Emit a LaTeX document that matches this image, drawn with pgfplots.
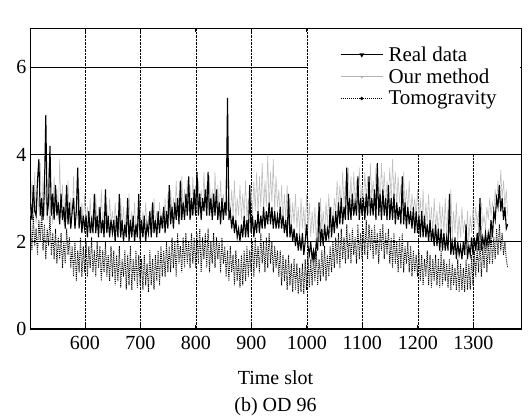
\documentclass[border=0pt]{standalone}
\usepackage{fontspec}
\setmainfont{Liberation Serif}
\usepackage{pgfplots}
\usepackage{pgfplotstable}
\pgfplotsset{compat=1.18}
\pgfplotsset{longlegend/.style={legend image code/.code={\draw[mark repeat=2,mark phase=2,##1] plot coordinates {(0pt,0pt) (21pt,0pt) (42pt,0pt)};}}}
\pgfplotstableread{
x r o t
502 2.9 2.6 2.4
504.5 2.5 3.4 1.8
507 3.3 2.5 2.6
509.5 2.7 3.6 1.9
512 2.6 2.4 2.3
514.5 3.4 3.2 1.7
517 3.9 2.7 2.5
519.5 2.6 3.8 2.0
522 3.0 2.5 2.7
524.5 2.5 3.5 1.8
527 3.2 2.6 2.4
529.5 4.9 3.3 1.6
532 2.6 2.5 2.3
534.5 2.9 3.7 1.9
537 4.2 2.6 2.6
539.5 2.6 3.1 1.7
542 3.1 2.4 2.2
544.5 2.5 3.5 1.6
547 3.3 2.7 2.3
549.5 2.6 3.2 1.5
552 2.9 2.5 2.1
554.5 2.4 3.9 1.6
557 3.1 2.6 2.2
559.5 2.5 3.3 1.4
562 2.8 2.4 2.0
564.5 2.3 3.1 1.5
567 3.3 2.5 2.3
569.5 2.4 3.4 1.7
572 2.9 2.4 2.1
574.5 2.3 3.0 1.4
577 2.7 2.6 1.9
579.5 3.0 3.5 1.2
582 2.3 2.3 2.0
584.5 2.7 2.9 1.1
587 3.7 2.5 1.8
589.5 2.3 3.2 1.3
592 2.8 2.4 2.1
594.5 2.2 2.9 1.2
597 2.6 2.3 1.9
599.5 2.3 3.1 1.3
602 2.6 2.4 2.0
604.5 2.1 2.8 1.2
607 2.7 2.3 1.9
609.5 2.2 3.0 1.4
612 2.5 2.2 2.1
614.5 2.2 2.7 1.3
617 3.1 2.4 1.8
619.5 2.2 3.1 1.2
622 2.6 2.3 2.0
624.5 2.1 2.8 1.4
627 2.8 2.2 1.9
629.5 2.2 3.2 1.1
632 2.5 2.4 1.8
634.5 2.1 2.7 1.3
637 3.2 2.3 2.0
639.5 2.2 2.9 1.2
642 2.6 2.2 1.7
644.5 2.1 3.0 1.1
647 2.5 2.4 1.9
649.5 2.2 2.7 1.2
652 2.5 2.2 1.8
654.5 2.0 2.9 1.0
657 2.6 2.3 1.7
659.5 2.1 2.6 1.1
662 3.1 2.2 1.9
664.5 2.1 3.0 0.95
667 2.5 2.3 1.6
669.5 2.0 2.8 1.2
672 2.4 2.2 1.8
674.5 2.1 2.7 0.9
677 3.0 2.4 1.7
679.5 2.0 3.1 1.0
682 2.5 2.2 1.9
684.5 2.1 2.7 0.9
687 2.6 2.3 1.6
689.5 2.0 2.9 1.1
692 2.4 2.2 1.8
694.5 2.1 2.6 0.95
697 3.1 2.3 1.7
699.5 2.0 2.8 1.0
702 2.5 2.2 1.6
704.5 2.1 2.7 0.9
707 2.6 2.3 1.7
709.5 2.0 2.9 1.0
712 2.4 2.2 1.5
714.5 2.2 2.6 0.85
717 2.7 2.3 1.8
719.5 2.1 2.8 1.0
722 2.9 2.2 1.6
724.5 2.2 3.0 0.9
727 2.5 2.4 1.7
729.5 2.1 2.7 1.1
732 2.7 2.3 1.8
734.5 2.2 2.9 1.0
737 2.6 2.4 1.9
739.5 2.3 2.7 1.2
742 2.8 2.3 1.8
744.5 2.2 3.0 1.2
747 2.7 2.4 2.0
749.5 2.3 3.1 1.3
752 3.3 2.5 1.9
754.5 2.4 3.2 1.3
757 2.8 2.6 2.1
759.5 2.3 3.0 1.4
762 2.9 2.5 2.0
764.5 2.5 3.4 1.2
767 3.0 2.6 2.2
769.5 2.4 3.1 1.5
772 3.4 2.5 1.9
774.5 2.5 3.5 1.3
777 2.9 2.7 2.1
779.5 2.5 3.2 1.4
782 3.1 2.6 2.2
784.5 2.6 3.4 1.5
787 3.5 2.7 2.0
789.5 2.5 3.3 1.4
792 3.0 2.6 2.2
794.5 2.6 3.5 1.5
797 3.2 2.7 2.1
799.5 2.6 3.3 1.4
802 3.6 2.7 2.2
804.5 2.6 3.4 1.5
807 3.1 2.8 2.3
809.5 2.5 3.2 1.3
812 3.0 2.7 2.1
814.5 2.7 3.6 1.6
817 3.2 2.8 2.2
819.5 2.6 3.3 1.4
822 3.6 2.6 2.3
824.5 2.6 3.5 1.3
827 3.0 2.7 2.0
829.5 2.5 3.2 1.5
832 3.1 2.6 2.2
834.5 2.6 3.6 1.4
837 3.2 2.8 2.1
839.5 2.5 3.3 1.6
842 2.9 2.6 2.0
844.5 2.4 3.4 1.3
847 3.0 2.7 2.1
849.5 2.5 3.1 1.5
852 2.9 2.6 1.9
854.5 2.6 3.5 1.2
857 5.3 2.7 1.8
859.5 2.5 3.3 1.1
862 2.7 2.5 1.9
864.5 2.3 3.2 1.3
867 2.6 2.6 1.7
869.5 2.2 3.4 1.0
872 2.5 2.5 1.8
874.5 2.1 3.0 1.1
877 2.3 2.6 1.6
879.5 2.0 3.3 0.95
882 2.4 2.5 1.7
884.5 2.1 3.1 1.0
887 2.6 2.6 1.8
889.5 2.1 3.4 1.1
892 2.5 2.5 1.9
894.5 2.1 3.0 1.2
897 3.3 2.7 1.8
899.5 2.2 3.2 1.3
902 2.6 2.6 2.0
904.5 2.1 3.4 1.2
907 2.5 2.7 2.1
909.5 2.2 3.6 1.4
912 2.7 2.6 1.9
914.5 2.2 3.5 1.3
917 2.6 2.8 2.2
919.5 2.3 3.8 1.5
922 2.8 2.7 2.0
924.5 2.3 3.4 1.3
927 2.7 2.8 2.1
929.5 2.4 4.0 1.4
932 2.9 2.7 2.2
934.5 2.4 3.6 1.5
937 2.8 2.9 2.0
939.5 2.3 3.9 1.3
942 2.7 2.7 1.9
944.5 2.3 3.5 1.4
947 2.6 2.8 1.8
949.5 2.3 3.2 1.2
952 2.8 2.5 1.8
954.5 2.3 3.3 1.0
957 2.6 2.4 1.7
959.5 2.2 3.1 1.1
962 2.5 2.5 1.6
964.5 2.1 3.3 0.9
967 3.1 2.4 1.7
969.5 2.1 3.0 1.0
972 2.4 2.3 1.5
974.5 2.0 2.9 0.85
977 2.3 2.4 1.6
979.5 1.9 3.1 0.9
982 2.2 2.3 1.5
984.5 1.8 2.8 0.8
987 2.1 2.2 1.4
989.5 1.8 3.0 0.85
992 2.2 2.3 1.5
994.5 1.7 2.8 0.8
997 2.0 2.2 1.6
999.5 2.4 3.1 0.9
1002 1.9 2.3 1.7
1004.5 1.7 2.9 0.95
1007 2.0 2.1 1.6
1009.5 1.6 2.7 1.0
1012 1.8 2.2 1.7
1014.5 1.6 2.8 1.1
1017 2.0 2.0 1.8
1019.5 1.8 2.6 1.0
1022 2.9 2.2 1.6
1024.5 1.9 3.0 1.1
1027 2.3 2.3 1.8
1029.5 1.9 2.7 1.2
1032 2.4 2.2 1.9
1034.5 2.0 2.9 1.1
1037 2.3 2.4 1.7
1039.5 2.1 3.1 1.2
1042 2.8 2.3 1.9
1044.5 2.1 2.8 1.3
1047 2.6 2.4 2.0
1049.5 2.2 3.0 1.4
1052 2.7 2.7 2.1
1054.5 2.3 3.4 1.5
1057 2.9 2.8 2.2
1059.5 2.4 3.3 1.4
1062 3.0 2.7 2.3
1064.5 2.4 3.6 1.6
1067 2.8 2.8 2.1
1069.5 2.5 3.4 1.5
1072 3.7 2.9 2.4
1074.5 2.5 3.7 1.6
1077 3.0 2.8 2.2
1079.5 2.5 3.5 1.5
1082 3.1 2.7 2.3
1084.5 2.6 3.6 1.7
1087 2.9 2.9 2.1
1089.5 2.6 3.4 1.5
1092 3.5 2.8 2.4
1094.5 2.5 3.7 1.6
1097 3.0 2.9 2.2
1099.5 2.6 3.3 1.6
1102 3.0 2.9 2.3
1104.5 2.5 3.6 1.7
1107 3.1 3.0 2.5
1109.5 2.6 3.5 1.6
1112 3.5 2.8 2.4
1114.5 2.6 3.8 1.8
1117 3.0 3.0 2.3
1119.5 2.6 3.4 1.6
1122 3.2 2.9 2.4
1124.5 2.5 3.7 1.7
1127 3.8 3.0 2.2
1129.5 2.6 3.5 1.5
1132 3.1 2.9 2.3
1134.5 2.5 3.8 1.8
1137 3.2 3.0 2.4
1139.5 2.6 3.6 1.6
1142 3.0 2.8 2.2
1144.5 2.5 3.4 1.7
1147 3.3 3.0 2.3
1149.5 2.5 3.7 1.5
1152 3.0 2.9 2.1
1154.5 2.5 3.9 1.4
1157 3.1 3.0 2.2
1159.5 2.4 3.6 1.5
1162 2.9 2.8 2.0
1164.5 2.5 3.5 1.3
1167 2.8 2.9 2.1
1169.5 2.4 3.3 1.4
1172 3.5 2.7 2.2
1174.5 2.4 3.6 1.3
1177 2.9 2.8 1.9
1179.5 2.3 3.2 1.5
1182 2.8 2.7 2.0
1184.5 2.4 3.4 1.3
1187 2.7 2.6 1.9
1189.5 2.3 3.1 1.2
1192 2.8 2.7 1.8
1194.5 2.2 3.0 1.3
1197 2.7 2.6 1.7
1199.5 2.2 3.2 1.2
1202 2.6 2.5 1.8
1204.5 2.1 3.0 1.1
1207 2.7 2.4 1.7
1209.5 2.1 3.2 1.0
1212 2.6 2.3 1.6
1214.5 2.1 2.9 1.2
1217 2.4 2.4 1.8
1219.5 2.0 3.1 1.0
1222 2.5 2.3 1.7
1224.5 2.0 2.8 0.95
1227 2.3 2.2 1.6
1229.5 1.9 3.0 1.1
1232 2.4 2.3 1.7
1234.5 1.9 2.7 1.0
1237 2.3 2.2 1.6
1239.5 1.8 2.9 0.95
1242 2.3 2.3 1.8
1244.5 1.8 2.8 1.0
1247 2.2 2.2 1.6
1249.5 1.8 3.0 1.1
1252 2.1 2.1 1.5
1254.5 1.8 2.8 0.95
1257 3.1 2.2 1.6
1259.5 1.7 3.2 0.9
1262 2.0 2.1 1.5
1264.5 1.7 2.7 1.0
1267 2.1 2.2 1.4
1269.5 1.6 2.9 0.9
1272 2.0 2.0 1.6
1274.5 1.7 2.6 0.85
1277 1.9 2.1 1.5
1279.5 1.6 2.8 0.9
1282 2.0 2.2 1.4
1284.5 1.7 2.5 0.85
1287 2.4 2.1 1.6
1289.5 1.6 2.7 0.9
1292 1.9 2.0 1.5
1294.5 1.7 2.6 0.9
1297 2.1 2.2 1.7
1299.5 1.7 2.8 1.0
1302 2.1 2.3 1.8
1304.5 1.8 2.8 1.2
1307 2.2 2.4 1.9
1309.5 1.8 2.7 1.3
1312 3.0 2.3 2.0
1314.5 1.8 2.9 1.2
1317 2.1 2.4 1.9
1319.5 1.9 2.6 1.4
1322 2.2 2.3 2.1
1324.5 1.9 2.8 1.3
1327 2.2 2.5 2.0
1329.5 2.0 3.0 1.5
1332 2.5 2.6 2.2
1334.5 2.1 2.9 1.5
1337 2.7 2.7 2.1
1339.5 2.5 3.2 1.6
1342 3.0 2.8 2.3
1344.5 2.8 3.4 1.7
1347 3.3 2.9 2.4
1349.5 2.7 3.65 1.8
1352 3.0 3.0 2.2
1354.5 2.5 3.4 1.7
1357 2.8 2.8 2.0
1359.5 2.3 3.2 1.6
1362 2.4 2.6 1.4
}\datatable
\begin{document}
\begin{tikzpicture}
\useasboundingbox (-30pt,-87pt) rectangle (500pt,329pt);
\begin{axis}[
  at={(0pt,0pt)}, anchor=south west,
  scale only axis, width=491pt, height=301pt,
  xmin=501, xmax=1386, ymin=0, ymax=6.9,
  xtick={600,700,...,1300}, ytick={0,2,4,6},
  xmajorgrids, ymajorgrids,
  major x grid style={black, densely dotted, line width=0.6pt},
  major y grid style={black, line width=1.4pt},
  axis line style={black, line width=1pt},
  tick style={black, line width=0.8pt},
  major tick length=4pt,
  tick align=inside,
  ticklabel style={font=\fontsize{20}{24}\selectfont},
  xticklabel style={yshift=-4pt},
  /pgf/number format/assume math mode=true,
  /pgf/number format/1000 sep={},
  xlabel={Time slot\\(b) OD 96},
  xlabel style={align=center, font=\fontsize{20}{27}\selectfont, yshift=-14pt},
  legend style={at={(rel axis cs:0.631,0.942)}, anchor=north west, draw=none, fill=none,
    font=\fontsize{21}{24}\selectfont, inner sep=0pt, row sep=4pt,
    nodes={inner xsep=5pt, inner ysep=1pt}},
  legend cell align=left,
]
\addlegendimage{longlegend, black, line width=1.5pt, mark=triangle*, mark options={solid, rotate=180, scale=0.7}}
\addlegendentry{Real data}
\addlegendimage{longlegend, gray!60, line width=0.8pt, mark=triangle*, mark options={solid, rotate=180, scale=0.6}}
\addlegendentry{Our method}
\addlegendimage{longlegend, black, densely dotted, line width=1pt, mark=*, mark options={solid, scale=0.6}}
\addlegendentry{Tomogravity}
\addplot[gray!50, line width=0.6pt, forget plot] table[x=x,y=o]{\datatable};
\addplot[black, densely dotted, line width=0.9pt, forget plot] table[x=x,y=t]{\datatable};
\addplot[black, line width=1.1pt, forget plot] table[x=x,y=r]{\datatable};
\fill[white] (axis cs:1001.5,4.04) rectangle (axis cs:1384.5,6.88);
\node[anchor=base west, font=\fontsize{19}{22}\selectfont, inner sep=0pt] at (rel axis cs:0,1) [xshift=-7pt, yshift=6pt] {×10\textsuperscript{7}};
\end{axis}
\end{tikzpicture}
\end{document}
